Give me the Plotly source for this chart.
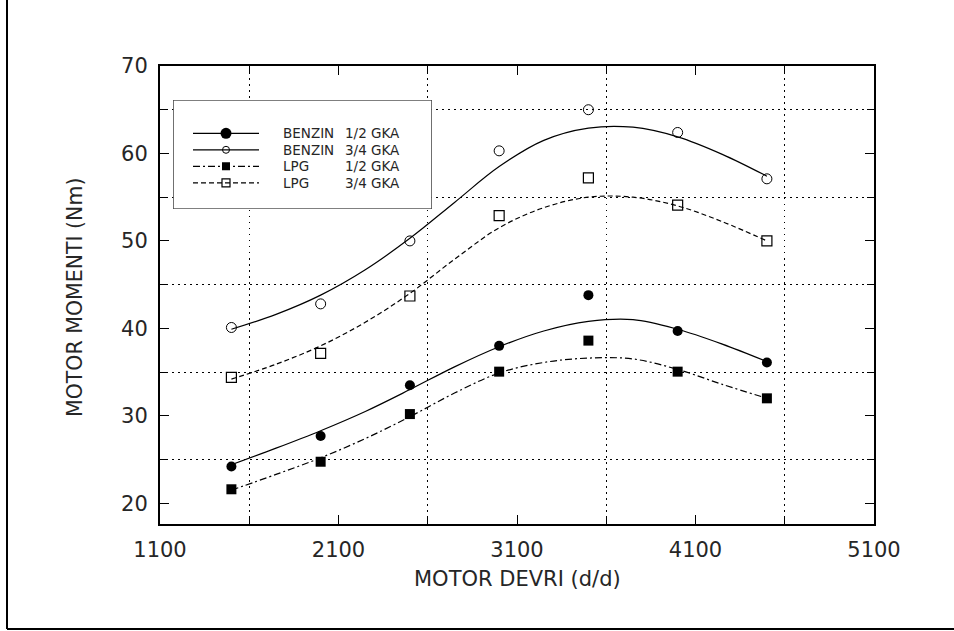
import plotly.graph_objects as go

# ---------------- data ----------------
rpm = [1500, 2000, 2500, 3000, 3500, 4000, 4500]
benzin_12 = [24.2, 27.7, 33.5, 38.0, 43.8, 39.7, 36.1]
benzin_34 = [40.1, 42.8, 50.0, 60.3, 65.0, 62.4, 57.1]
lpg_12 = [21.6, 24.75, 30.2, 35.05, 38.6, 35.05, 32.0]
lpg_34 = [34.4, 37.15, 43.7, 52.9, 57.2, 54.1, 50.0]

# fitted curves as drawn in the reference
curve_rpm = [1500, 1750, 2000, 2250, 2500, 2750, 3000, 3250, 3500, 3750, 4000, 4250, 4500]
benzin_12_fit = [24.4, 26.3, 28.3, 30.5, 33.0, 35.6, 37.9, 39.7, 40.8, 41.0, 39.9, 38.2, 36.2]
benzin_34_fit = [39.9, 41.6, 43.8, 46.7, 50.3, 54.4, 58.5, 61.5, 62.9, 63.0, 61.9, 59.9, 57.4]
lpg_12_fit = [21.5, 23.3, 25.2, 27.4, 29.9, 32.6, 34.9, 36.1, 36.6, 36.5, 35.3, 33.6, 32.0]
lpg_34_fit = [34.2, 35.9, 38.0, 40.7, 44.0, 47.9, 51.5, 53.8, 55.0, 55.0, 54.0, 52.2, 50.0]

x_ticks = [1100, 2100, 3100, 4100, 5100]
y_ticks = [20, 30, 40, 50, 60, 70]
x_grid = [1600, 2600, 3600, 4600]
y_grid = [25, 35, 45, 55, 65]

fuel_labels = ["BENZIN", "BENZIN", "LPG", "LPG"]
load_labels = ["1/2 GKA", "3/4 GKA", "1/2 GKA", "3/4 GKA"]
x_title = "MOTOR DEVRI (d/d)"
y_title = "MOTOR MOMENTI (Nm)"

# ---------------- styles ----------------
W, H = 954, 631
PL, PR, PT, PB = 160, 874, 66, 524   # plot area in pixels
FONT = "DejaVu Sans"
TXT = "#262626"


def px_x(p):
    return (p - PL) / (PR - PL)


def px_y(p):
    return (PB - p) / (PB - PT)


styles = [
    dict(dash="solid", symbol="circle", size=10, mline=0),
    dict(dash="solid", symbol="circle-open", size=10, mline=1),
    dict(dash="7px,3px,2px,3px", symbol="square", size=10, mline=0),
    dict(dash="5px,3px", symbol="square-open", size=10, mline=1.2),
]
legend_marker_sizes = [11, 7, 8, 8]

points = [benzin_12, benzin_34, lpg_12, lpg_34]
fits = [benzin_12_fit, benzin_34_fit, lpg_12_fit, lpg_34_fit]

fig = go.Figure()

for vals, fit, st in zip(points, fits, styles):
    fig.add_trace(go.Scatter(
        x=curve_rpm, y=fit, mode="lines",
        line=dict(color="black", width=1.2, dash=st["dash"], shape="spline", smoothing=1.0),
        showlegend=False, hoverinfo="skip"))
    fig.add_trace(go.Scatter(
        x=rpm, y=vals, mode="markers",
        marker=dict(symbol=st["symbol"], size=st["size"], color="black",
                    line=dict(color="black", width=st["mline"])),
        showlegend=False))

# ---------------- hand-made legend (on its own hidden axes) ----------------
LEG_L, LEG_R, LEG_T, LEG_B = 173.3, 431.7, 100, 209
row_px = [133.3, 149.8, 166.3, 182.8]
line_px = (193, 259)
mark_px = 226
col1_px, col2_px = 281, 343


def lx(p):
    return (p - LEG_L) / (LEG_R - LEG_L)


def ly(p):
    return (LEG_B - p) / (LEG_B - LEG_T)


# white legend box with thin black border
fig.add_trace(go.Scatter(
    x=[0, 1, 1, 0, 0], y=[0, 0, 1, 1, 0], mode="lines", fill="toself",
    fillcolor="white", line=dict(color="black", width=1),
    xaxis="x2", yaxis="y2", showlegend=False, hoverinfo="skip"))

for i, st in enumerate(styles):
    yy = ly(row_px[i])
    fig.add_trace(go.Scatter(
        x=[lx(line_px[0]), lx(line_px[1])], y=[yy, yy], mode="lines",
        line=dict(color="black", width=1.2, dash=st["dash"]),
        xaxis="x2", yaxis="y2", showlegend=False, hoverinfo="skip"))
    fig.add_trace(go.Scatter(
        x=[lx(mark_px)], y=[yy], mode="markers",
        marker=dict(symbol=st["symbol"], size=legend_marker_sizes[i], color="black",
                    line=dict(color="black", width=st["mline"])),
        xaxis="x2", yaxis="y2", showlegend=False, hoverinfo="skip"))

annotations = []
for i in range(4):
    yy = ly(row_px[i])
    annotations.append(dict(x=lx(col1_px), y=yy, xref="x2", yref="y2", text=fuel_labels[i],
                            showarrow=False, xanchor="left", yanchor="middle",
                            font=dict(family=FONT, size=13.5, color=TXT)))
    annotations.append(dict(x=lx(col2_px), y=yy, xref="x2", yref="y2", text=load_labels[i],
                            showarrow=False, xanchor="left", yanchor="middle",
                            font=dict(family=FONT, size=13.5, color=TXT)))

annotations.append(dict(x=px_x(517), y=px_y(579), xref="paper", yref="paper", text=x_title,
                        showarrow=False, xanchor="center", yanchor="middle",
                        font=dict(family=FONT, size=21, color=TXT)))
annotations.append(dict(x=px_x(75), y=px_y(298), xref="paper", yref="paper", text=y_title,
                        showarrow=False, xanchor="center", yanchor="middle", textangle=-90,
                        font=dict(family=FONT, size=20.5, color=TXT)))

shapes = [
    dict(type="line", xref="paper", yref="paper", x0=px_x(7), x1=px_x(7), y0=px_y(0), y1=px_y(629),
         line=dict(color="black", width=2)),
    dict(type="line", xref="paper", yref="paper", x0=px_x(7), x1=px_x(954), y0=px_y(629), y1=px_y(629),
         line=dict(color="black", width=2)),
]

axis_common = dict(
    showline=True, linecolor="black", linewidth=2, mirror="ticks",
    ticks="inside", ticklen=9, tickwidth=1, tickcolor="black",
    showgrid=False, zeroline=False,
    tickfont=dict(family=FONT, size=21, color=TXT),
)

fig.update_layout(
    width=W, height=H,
    margin=dict(l=PL, r=W - PR, t=PT, b=H - PB),
    paper_bgcolor="white", plot_bgcolor="white",
    showlegend=False,
    xaxis=dict(range=[1100, 5100], tickvals=x_ticks, ticktext=[str(v) for v in x_ticks],
               ticklabelstandoff=6,
               minor=dict(tickvals=x_grid, ticks="inside", ticklen=7, tickwidth=1, tickcolor="black",
                          showgrid=True, gridcolor="black", gridwidth=1, griddash="1.5px,4.5px"),
               **axis_common),
    yaxis=dict(range=[17.63, 70], tickvals=y_ticks, ticktext=[str(v) for v in y_ticks],
               ticklabelstandoff=6,
               minor=dict(tickvals=y_grid, ticks="inside", ticklen=7, tickwidth=1, tickcolor="black",
                          showgrid=True, gridcolor="black", gridwidth=1, griddash="1.5px,4.5px"),
               **axis_common),
    xaxis2=dict(domain=[px_x(LEG_L), px_x(LEG_R)], range=[0, 1], visible=False, anchor="y2",
                fixedrange=True),
    yaxis2=dict(domain=[px_y(LEG_B), px_y(LEG_T)], range=[0, 1], visible=False, anchor="x2",
                fixedrange=True),
    annotations=annotations,
    shapes=shapes,
)

fig.write_html("out.html")
